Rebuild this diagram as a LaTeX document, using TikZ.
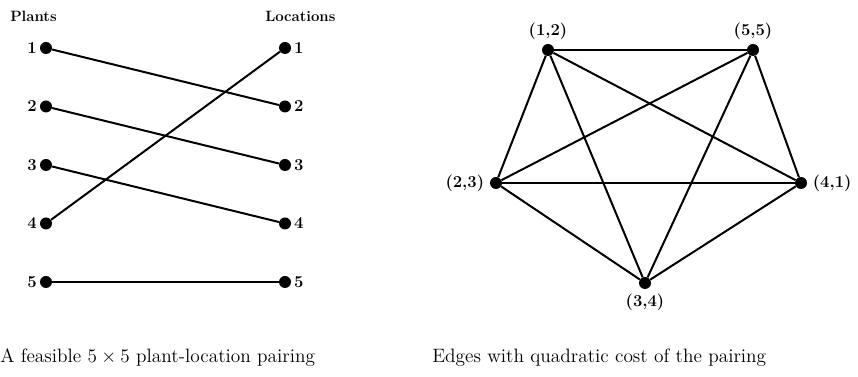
\documentclass[tikz,border=0pt]{standalone}
\begin{document}
\begin{tikzpicture}[x=0.75pt,y=-0.75pt,
  dot/.style={circle,fill=black,inner sep=0pt,minimum size=9pt},
  lbl/.style={font=\bfseries\fontsize{12.5}{14}\selectfont,inner sep=2.5pt},
  conn/.style={line width=1.5pt},
  captxt/.style={font=\fontsize{14.5}{17}\selectfont,inner sep=0pt}]
\useasboundingbox (0,0) rectangle (858,377);
% left part
\node[captxt,anchor=west,font=\bfseries\fontsize{11.2}{13}\selectfont] (plants) at (10,16) {Plants};
\node[captxt,anchor=west,font=\bfseries\fontsize{11.2}{13}\selectfont] (locs) at (265,16) {Locations};
\foreach \i/\y in {1/48,2/106.5,3/165,4/223.5,5/282}{
  \node[dot,label={[lbl,inner sep=2pt]left:\i}] (p\i) at (46,\y) {};
  \node[dot,label={[lbl,inner sep=2pt]right:\i}] (l\i) at (285,\y) {};
}
\draw[conn] (p1) -- (l2);
\draw[conn] (p2) -- (l3);
\draw[conn] (p3) -- (l4);
\draw[conn] (p4) -- (l1);
\draw[conn] (p5) -- (l5);
\node[captxt,anchor=west] (capL) at (0,358) {A feasible $5\times 5$ plant-location pairing};
% right part
\node[dot,label={[lbl]above:(1,2)}] (a) at (548,50) {};
\node[dot,label={[lbl]above:(5,5)}] (b) at (753,50) {};
\node[dot,label={[lbl,inner sep=4pt]right:(4,1)}] (c) at (801,183) {};
\node[dot,label={[lbl,inner sep=3pt]below:(3,4)}] (d) at (645,283) {};
\node[dot,label={[lbl,inner sep=4pt]left:(2,3)}] (e) at (496,183) {};
\foreach \u/\v in {a/b,a/c,a/d,a/e,b/c,b/d,b/e,c/d,c/e,d/e}{
  \draw[conn] (\u) -- (\v);
}
\node[captxt,anchor=west] (capR) at (432,358) {Edges with quadratic cost of the pairing};
\end{tikzpicture}
\end{document}
